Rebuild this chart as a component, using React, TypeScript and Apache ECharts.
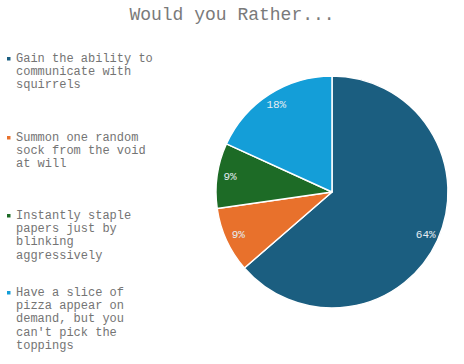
import React, { useEffect, useRef } from "react";
import * as echarts from "echarts";

const TITLE = "Would you Rather...";
const categories = [
  "Gain the ability to communicate with squirrels",
  "Summon one random sock from the void at will",
  "Instantly staple papers just by blinking aggressively",
  "Have a slice of pizza appear on demand, but you can't pick the toppings",
];
const legendLines = [
  ["Gain the ability to", "communicate with", "squirrels"],
  ["Summon one random", "sock from the void", "at will"],
  ["Instantly staple", "papers just by", "blinking", "aggressively"],
  ["Have a slice of", "pizza appear on", "demand, but you", "can't pick the", "toppings"],
];
const votes = [7, 1, 1, 2];
const colors = ["#1b5e80", "#e8712c", "#1d6b26", "#149ed8"];

const legendTops = [52, 131, 209, 286];
const FONT = "Liberation Mono";

export default function App() {
  const ref = useRef<HTMLDivElement>(null);
  useEffect(() => {
    if (!ref.current) return;
    const chart = echarts.init(ref.current, undefined, { renderer: "svg" });
    const data = categories.map((name, i) => ({
      name,
      value: votes[i],
      itemStyle: { color: colors[i] },
    }));
    const legendGraphics: any[] = [];
    categories.forEach((_, i) => {
      legendGraphics.push({
        type: "rect",
        x: 7,
        y: legendTops[i] + 5,
        shape: { x: 0, y: 0, width: 3.5, height: 3.5 },
        style: { fill: colors[i] },
      });
      legendGraphics.push({
        type: "text",
        x: 16,
        y: legendTops[i],
        style: {
          text: legendLines[i].join("\n"),
          fontFamily: FONT,
          fontSize: 12,
          lineHeight: 13.3,
          fill: "#747474",
          verticalAlign: "top",
          align: "left",
        },
      });
    });
    chart.setOption({
      animation: false,
      backgroundColor: "#ffffff",
      textStyle: { fontFamily: FONT },
      title: {
        text: TITLE,
        left: "center",
        top: 1,
        textStyle: {
          fontFamily: FONT,
          fontSize: 18,
          fontWeight: "normal",
          color: "#7a7a7a",
        },
      },
      graphic: { elements: legendGraphics },
      series: [
        {
          type: "pie",
          center: [332, 192],
          radius: [0, 116],
          startAngle: 90,
          clockwise: true,
          silent: true,
          label: { show: false },
          labelLine: { show: false },
          itemStyle: { borderColor: "#ffffff", borderWidth: 1.5 },
          data,
        },
        {
          type: "pie",
          center: [332, 192],
          radius: [84, 116],
          startAngle: 90,
          clockwise: true,
          silent: true,
          percentPrecision: 0,
          itemStyle: { color: "transparent", borderWidth: 0 },
          label: {
            show: true,
            position: "inside",
            formatter: "{p|{d}%}",
            rich: {
              p: {
                fontFamily: FONT,
                fontSize: 11,
                color: "#e4ecf2",
              },
            },
          },
          labelLine: { show: false },
          data: categories.map((name, i) => ({ name, value: votes[i] })),
        },
      ],
    });
    return () => chart.dispose();
  }, []);
  return (
    <div
      ref={ref}
      style={{ position: "fixed", left: 0, top: 0, width: 464, height: 364 }}
    />
  );
}
